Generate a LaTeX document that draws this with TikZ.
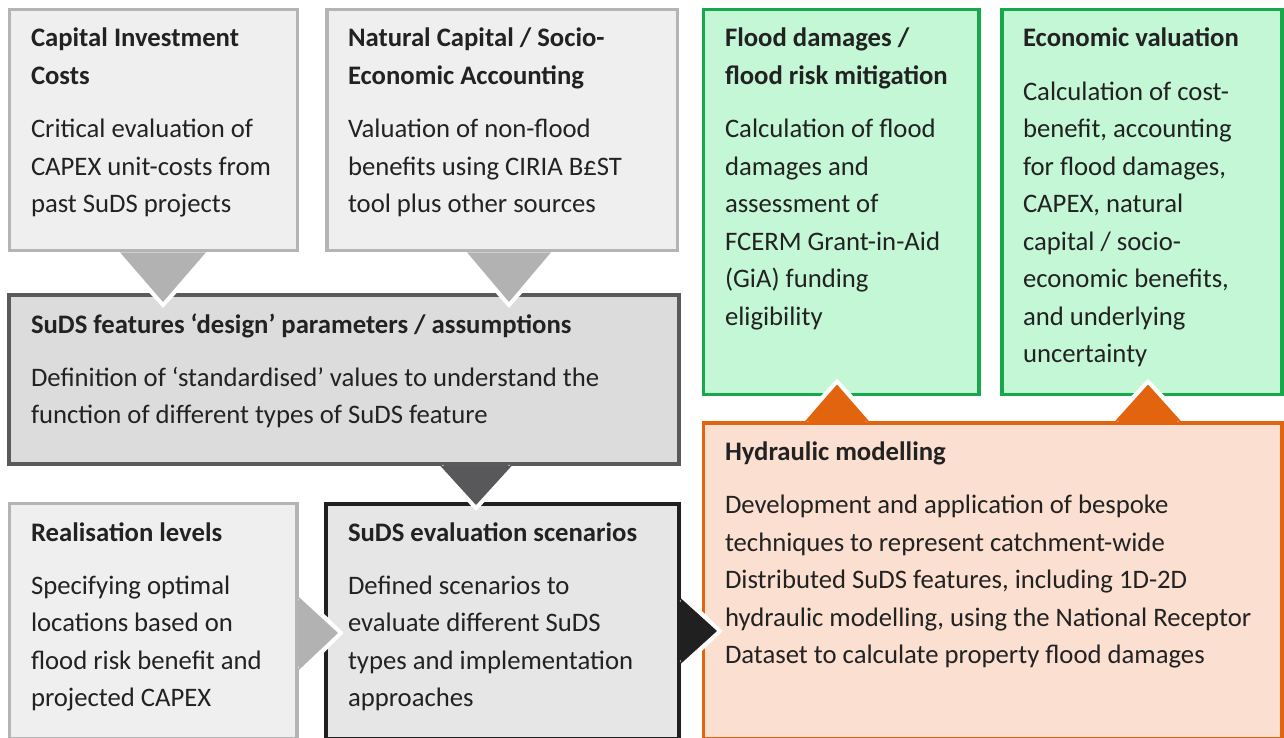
\documentclass[tikz,border=0pt]{standalone}
\usepackage{fontspec}
\setmainfont{Carlito}
\usetikzlibrary{calc}

\definecolor{inkc}{HTML}{222222}
\definecolor{lgfill}{HTML}{EFEFEF}
\definecolor{lgline}{HTML}{B4B4B4}
\definecolor{mgfill}{HTML}{DCDCDC}
\definecolor{mgline}{HTML}{5A5A5C}
\definecolor{dgfill}{HTML}{E6E6E6}
\definecolor{dgline}{HTML}{202020}
\definecolor{grfill}{HTML}{C4F7D6}
\definecolor{grline}{HTML}{17A84B}
\definecolor{orfill}{HTML}{FBDFD0}
\definecolor{orline}{HTML}{E3640F}
\definecolor{tri}{HTML}{B2B2B2}
\definecolor{tridark}{HTML}{58585A}

\newcommand{\bodyfont}{\fontsize{26.7}{37.5}\selectfont\color{inkc}}
\newcommand{\titlefont}{\fontsize{26.7}{37.5}\selectfont\bfseries\color{inkc}}

\tikzset{
  panel/.style={rectangle, anchor=north west, inner sep=0pt, outer sep=0pt},
  lightpanel/.style={panel, fill=lgfill, draw=lgline, line width=3.5pt},
  midpanel/.style={panel, fill=mgfill, draw=mgline, line width=4pt},
  darkpanel/.style={panel, fill=dgfill, draw=dgline, line width=4pt},
  greenpanel/.style={panel, fill=grfill, draw=grline, line width=3.5pt},
  orangepanel/.style={panel, fill=orfill, draw=orline, line width=3.5pt},
  txt/.style={anchor=north west, inner sep=0pt, outer sep=0pt, align=left, yshift=26.25pt},
  ttl/.style={txt, font=\titlefont},
  bdy/.style={txt, font=\bodyfont},
  halo/.style={draw=white, line width=8pt, line cap=butt, line join=miter},
}

\begin{document}
\begin{tikzpicture}[x=1pt, y=-1pt]
\useasboundingbox (0,0) rectangle (1284,738);

% panels
\node[lightpanel, minimum width=288pt, minimum height=241pt] (cap) at (9.5,9.5) {};
\node[lightpanel, minimum width=350.5pt, minimum height=241pt] (nat) at (327,9.5) {};
\node[greenpanel, minimum width=275.5pt, minimum height=385pt] (fld) at (703.5,9.5) {};
\node[greenpanel, minimum width=280pt, minimum height=385pt] (eco) at (1002,9.5) {};
\node[midpanel, minimum width=669.5pt, minimum height=168.5pt] (des) at (9,295) {};
\node[lightpanel, minimum width=287.5pt, minimum height=235pt] (rea) at (9.5,503.5) {};
\node[darkpanel, minimum width=352.5pt, minimum height=235pt] (scn) at (326,503.5) {};
\node[orangepanel, minimum width=578.5pt, minimum height=315.5pt] (hyd) at (703.5,423) {};

% texts
\node[ttl] (capT) at (31,47) {\strut Capital Investment\\Costs};
\node[bdy] (capB) at (31,137.5) {\strut Critical evaluation of\\CAPEX unit-costs from\\past SuDS projects};

\node[ttl] (natT) at (348,47) {\strut Natural Capital / Socio-\\Economic Accounting};
\node[bdy] (natB) at (348,137.5) {\strut Valuation of non-flood\\benefits using CIRIA B£ST\\tool plus other sources};

\node[ttl] (fldT) at (725,47) {\strut Flood damages /\\flood risk mitigation};
\node[bdy] (fldB) at (725,137.5) {\strut Calculation of flood\\damages and\\assessment of\\FCERM Grant-in-Aid\\(GiA) funding\\eligibility};

\node[ttl] (ecoT) at (1023,47) {\strut Economic valuation};
\node[bdy] (ecoB) at (1023,100) {\strut Calculation of cost-\\benefit, accounting\\for flood damages,\\CAPEX, natural\\capital / socio-\\economic benefits,\\and underlying\\uncertainty};

\node[ttl] (desT) at (31,333) {\strut SuDS features ‘design’ parameters / assumptions};
\node[bdy] (desB) at (31,386) {\strut Definition of ‘standardised’ values to understand the\\function of different types of SuDS feature};

\node[ttl] (reaT) at (31,541) {\strut Realisation levels};
\node[bdy] (reaB) at (31,594) {\strut Specifying optimal\\locations based on\\flood risk benefit and\\projected CAPEX};

\node[ttl] (scnT) at (348,541) {\strut SuDS evaluation scenarios};
\node[bdy] (scnB) at (348,594) {\strut Defined scenarios to\\evaluate different SuDS\\types and implementation\\approaches};

\node[ttl] (hydT) at (725,460.5) {\strut Hydraulic modelling};
\node[bdy] (hydB) at (725,513.5) {\strut Development and application of bespoke\\techniques to represent catchment-wide\\Distributed SuDS features, including 1D-2D\\hydraulic modelling, using the National Receptor\\Dataset to calculate property flood damages};

% triangular connectors: tips sit just inside the receiving panel
\coordinate (t1) at ($(163,0 |- des.north)+(0,7)$);
\coordinate (t2) at ($(509,0 |- des.north)+(0,7)$);
\coordinate (t3) at ($(476,0 |- scn.north)+(0,1.5)$);
\coordinate (t4) at ($(scn.west |- 0,633)+(12,0)$);
\coordinate (t5) at ($(hyd.west |- 0,631)+(13.5,0)$);
\coordinate (t6) at ($(837,0 |- fld.south)+(0,-10)$);
\coordinate (t7) at ($(1148,0 |- eco.south)+(0,-10)$);

% cap -> des
\draw[halo] ($(120,0 |- cap.south)+(0,4)$) -- (t1) -- ($(206,0 |- cap.south)+(0,4)$);
\fill[tri] ($(120,0 |- cap.south)+(0,1.8)$) -- (t1) -- ($(206,0 |- cap.south)+(0,1.8)$) -- cycle;
% nat -> des
\draw[halo] ($(467,0 |- nat.south)+(0,4)$) -- (t2) -- ($(551,0 |- nat.south)+(0,4)$);
\fill[tri] ($(467,0 |- nat.south)+(0,1.8)$) -- (t2) -- ($(551,0 |- nat.south)+(0,1.8)$) -- cycle;
% des -> scn
\draw[halo] ($(440,0 |- des.south)+(0,4)$) -- (t3) -- ($(512,0 |- des.south)+(0,4)$);
\fill[tridark] ($(440,0 |- des.south)+(0,2)$) -- (t3) -- ($(512,0 |- des.south)+(0,2)$) -- cycle;
% rea -> scn
\draw[halo] ($(rea.east |- 0,597)+(4,0)$) -- (t4) -- ($(rea.east |- 0,670)+(4,0)$);
\fill[tri] ($(rea.east |- 0,597)+(1.8,0)$) -- (t4) -- ($(rea.east |- 0,670)+(1.8,0)$) -- cycle;
% scn -> hyd
\draw[halo] ($(scn.east |- 0,598)+(4,0)$) -- (t5) -- ($(scn.east |- 0,664)+(4,0)$);
\fill[dgline] ($(scn.east |- 0,598)+(2,0)$) -- (t5) -- ($(scn.east |- 0,664)+(2,0)$) -- cycle;
% hyd -> fld, hyd -> eco
\draw[halo] ($(805,0 |- hyd.north)+(0,-4)$) -- (t6) -- ($(869,0 |- hyd.north)+(0,-4)$);
\fill[orline] ($(805,0 |- hyd.north)+(0,-1.8)$) -- (t6) -- ($(869,0 |- hyd.north)+(0,-1.8)$) -- cycle;
\draw[halo] ($(1115,0 |- hyd.north)+(0,-4)$) -- (t7) -- ($(1181,0 |- hyd.north)+(0,-4)$);
\fill[orline] ($(1115,0 |- hyd.north)+(0,-1.8)$) -- (t7) -- ($(1181,0 |- hyd.north)+(0,-1.8)$) -- cycle;
\end{tikzpicture}
\end{document}
